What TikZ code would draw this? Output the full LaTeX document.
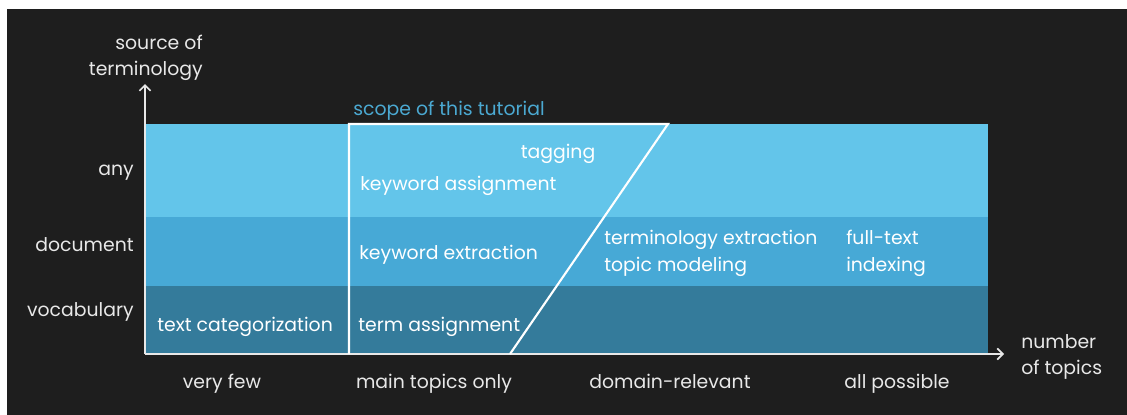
\documentclass[tikz,border=0pt]{standalone}
\usepackage{fontspec}
\setmainfont{Poppins}
\usetikzlibrary{positioning,arrows.meta}
\definecolor{board}{HTML}{1E1E1E}
\definecolor{skyband}{HTML}{63C5EA}
\definecolor{midband}{HTML}{47A9D6}
\definecolor{deepband}{HTML}{347B9B}
\definecolor{scopeblue}{HTML}{4BA9D2}
\definecolor{chalk}{HTML}{E8E8E8}
\begin{document}
\begin{tikzpicture}
  [x=0.025cm,y=-0.025cm,
   chalktext/.style={text=chalk,inner sep=0,font=\fontsize{13.4}{18}\selectfont},
   bandtext/.style={text=white,inner sep=0,anchor=base west,align=left,
                    font=\fontsize{13.4}{18.5}\selectfont},
   axis/.style={draw=chalk,line width=1.2pt,-{Straight Barb[length=4pt,width=8pt]}}]
  % board
  \fill[white] (0,0) rectangle (1127,415);
  \fill[board] (7,9) rectangle (1127,415);
  % bands
  \fill[skyband] (146,124) rectangle (988,217);
  \fill[midband] (146,217) rectangle (988,286);
  \fill[deepband] (146,286) rectangle (988,353);
  % axes
  \coordinate (origin) at (145,354);
  \coordinate (ytip) at (145,84);
  \coordinate (xtip) at (1004,354);
  \draw[axis] (origin) -- (ytip);
  \draw[axis] (origin) -- (xtip);
  \node[chalktext,anchor=base east,align=right] (ylabel) at (203,75) {source of\\terminology};
  \node[chalktext,anchor=base west,align=left] (xlabel) at (1021,374) {number\\of topics};
  % scope of the tutorial
  \coordinate (scopebl) at (349,354);
  \coordinate (scopetl) at (349,124);
  \coordinate (scopetr) at (668,124);
  \coordinate (scopebr) at (510,354);
  \draw[white,line width=1.5pt] (scopebl) -- (scopetl) -- (scopetr) -- (scopebr);
  \node[chalktext,text=scopeblue,anchor=base west] (scope) at (353,115) {scope of this tutorial};
  % rows
  \node[chalktext,anchor=base east] (any) at (134,175) {any};
  \node[chalktext,anchor=base east] (document) at (134,251) {document};
  \node[chalktext,anchor=base east] (vocabulary) at (134,316) {vocabulary};
  % columns
  \node[chalktext,anchor=base] (veryfew) at (222,388) {very few};
  \node[chalktext,anchor=base] (maintopics) at (434,388) {main topics only};
  \node[chalktext,anchor=base] (domain) at (670,388) {domain-relevant};
  \node[chalktext,anchor=base] (allpossible) at (897,388) {all possible};
  % tasks
  \node[bandtext,anchor=base] (tagging) at (558,158) {tagging};
  \node[bandtext] (kwassign) at (360,190) {keyword assignment};
  \node[bandtext] (kwextract) at (359,259) {keyword extraction};
  \node[bandtext] (termextract) at (604,271) {terminology extraction\\topic modeling};
  \node[bandtext] (fulltext) at (846,271) {full-text\\indexing};
  \node[bandtext] (textcat) at (157,331) {text categorization};
  \node[bandtext] (termassign) at (358,331) {term assignment};
\end{tikzpicture}
\end{document}
